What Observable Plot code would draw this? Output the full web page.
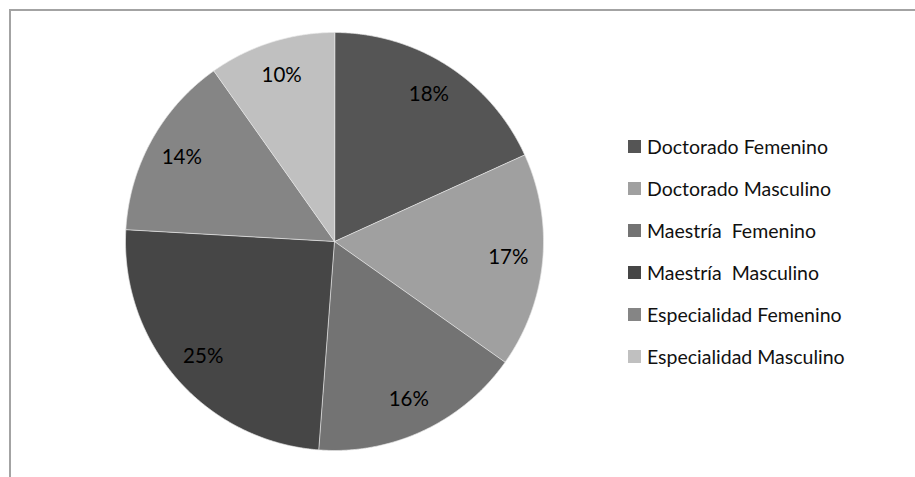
<!DOCTYPE html>
<html>
<head>
<meta charset="utf-8">
<script src="https://cdn.jsdelivr.net/npm/d3@7"></script>
<script src="https://cdn.jsdelivr.net/npm/@observablehq/plot@0.6"></script>
<style>
  html, body { margin: 0; padding: 0; background: #fff; }
  #wrap { position: relative; width: 915px; height: 477px; overflow: hidden; }
  #frame { position: absolute; left: 9px; top: 9px; width: 920px; height: 480px;
           border-top: 2px solid #a3a3a3; border-left: 2px solid #a3a3a3; box-sizing: border-box; }
  #chart { position: absolute; left: 0; top: 0; }
  #legend { position: absolute; left: 628px; top: 125px; font-family: Lato, sans-serif;
            font-size: 19.5px; color: #111; }
  .row { display: flex; align-items: center; height: 42px; white-space: pre; }
  .sw { width: 13px; height: 13px; margin-right: 6px; flex: none; }
</style>
</head>
<body>
<div id="wrap">
  <div id="frame"></div>
  <div id="chart"></div>
  <div id="legend"></div>
</div>
<script>
const categories = ["Doctorado Femenino", "Doctorado Masculino", "Maestría  Femenino", "Maestría  Masculino", "Especialidad Femenino", "Especialidad Masculino"];
const values = [18.2, 16.6, 16.4, 24.7, 14.3, 9.8];
const colors = ["#555555", "#a0a0a0", "#737373", "#464646", "#858585", "#c0c0c0"];

const total = d3.sum(values);
const arcs = d3.pie().sort(null).value(d => d)(values);

const pts = [];
const labels = [];
arcs.forEach((a, i) => {
  const cat = categories[i];
  pts.push({cat, x: 0, y: 0});
  const n = Math.max(2, Math.ceil((a.endAngle - a.startAngle) / 0.005));
  for (let k = 0; k <= n; k++) {
    const t = a.startAngle + (a.endAngle - a.startAngle) * k / n;
    pts.push({cat, x: Math.sin(t), y: Math.cos(t)});
  }
  const m = (a.startAngle + a.endAngle) / 2;
  labels.push({cat, x: 0.835 * Math.sin(m), y: 0.835 * Math.cos(m), label: Math.round(values[i] / total * 100) + "%"});
});

const plot = Plot.plot({
  width: 915,
  height: 477,
  marginLeft: 125,
  marginRight: 372,
  marginTop: 32,
  marginBottom: 27,
  x: {domain: [-1, 1], axis: null},
  y: {domain: [-1, 1], axis: null},
  color: {domain: categories, range: colors},
  style: {background: "transparent", fontFamily: "Lato, sans-serif"},
  marks: [
    Plot.line(pts, {x: "x", y: "y", z: "cat", fill: "cat", stroke: "#e8e8e8", strokeWidth: 0.7, curve: "linear-closed"}),
    Plot.text(labels, {x: "x", y: "y", text: "label", fill: "#000", fontSize: 20.5})
  ]
});
document.getElementById("chart").appendChild(plot);

const legend = document.getElementById("legend");
categories.forEach((c, i) => {
  const row = document.createElement("div");
  row.className = "row";
  const sw = document.createElement("span");
  sw.className = "sw";
  sw.style.background = colors[i];
  const tx = document.createElement("span");
  tx.textContent = c;
  row.appendChild(sw);
  row.appendChild(tx);
  legend.appendChild(row);
});
</script>
</body>
</html>
